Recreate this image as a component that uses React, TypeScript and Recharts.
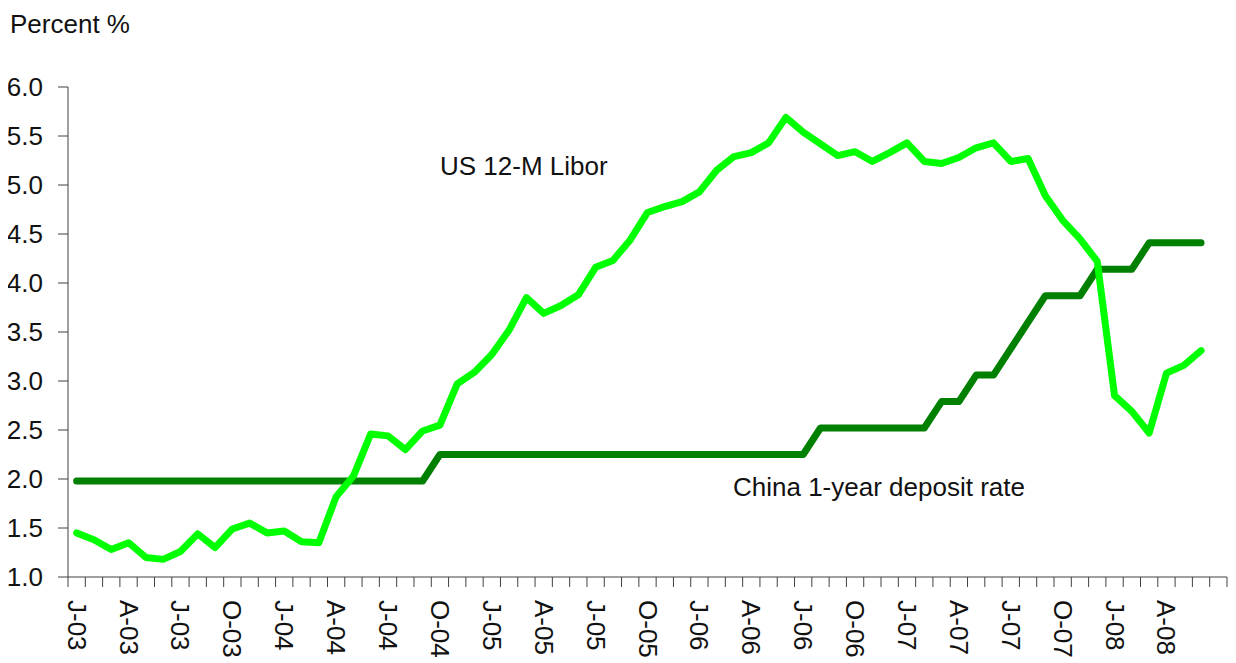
import { LineChart, Line, XAxis, YAxis } from "recharts";

// Jan 2003 .. Jul 2008 (last month has no data)
const years = ["03", "04", "05", "06", "07", "08"];
const monthNames = ["Jan", "Feb", "Mar", "Apr", "May", "Jun", "Jul", "Aug", "Sep", "Oct", "Nov", "Dec"];
const months: string[] = years.flatMap((y) => monthNames.map((m) => `${m}-${y}`)).slice(0, 67);

const quarterLabels = [
  "J-03", "A-03", "J-03", "O-03",
  "J-04", "A-04", "J-04", "O-04",
  "J-05", "A-05", "J-05", "O-05",
  "J-06", "A-06", "J-06", "O-06",
  "J-07", "A-07", "J-07", "O-07",
  "J-08", "A-08",
];

const libor = [
  1.45, 1.38, 1.28, 1.35, 1.2, 1.18, 1.26, 1.44, 1.3, 1.49, 1.55, 1.45,
  1.47, 1.36, 1.35, 1.82, 2.03, 2.46, 2.44, 2.3, 2.49, 2.55, 2.97, 3.09,
  3.27, 3.52, 3.85, 3.69, 3.77, 3.88, 4.16, 4.23, 4.44, 4.72, 4.78, 4.83,
  4.93, 5.15, 5.29, 5.33, 5.43, 5.69, 5.54, 5.42, 5.3, 5.34, 5.24, 5.33,
  5.43, 5.24, 5.22, 5.28, 5.38, 5.43, 5.24, 5.27, 4.89, 4.64, 4.45, 4.22,
  2.85, 2.69, 2.47, 3.08, 3.16, 3.31, null,
];

const chinaDeposit = [
  1.98, 1.98, 1.98, 1.98, 1.98, 1.98, 1.98, 1.98, 1.98, 1.98, 1.98, 1.98,
  1.98, 1.98, 1.98, 1.98, 1.98, 1.98, 1.98, 1.98, 1.98, 2.25, 2.25, 2.25,
  2.25, 2.25, 2.25, 2.25, 2.25, 2.25, 2.25, 2.25, 2.25, 2.25, 2.25, 2.25,
  2.25, 2.25, 2.25, 2.25, 2.25, 2.25, 2.25, 2.52, 2.52, 2.52, 2.52, 2.52,
  2.52, 2.52, 2.79, 2.79, 3.06, 3.06, 3.33, 3.6, 3.87, 3.87, 3.87, 4.14,
  4.14, 4.14, 4.41, 4.41, 4.41, 4.41, null,
];

const yTicks = [1, 1.5, 2, 2.5, 3, 3.5, 4, 4.5, 5, 5.5, 6];

const data = months.map((m, i) => ({
  idx: i,
  month: m,
  libor: libor[i],
  china: chinaDeposit[i],
}));

const FONT = "'Liberation Sans', Arial, sans-serif";
const FONT_SIZE = 26;
const TEXT = "#111";
const AXIS = "#404040";

const W = 1228;
const H = 655;
const MARGIN = { top: 79, right: 9, bottom: 8, left: 0 };
const Y_AXIS_W = 60;
const X_AXIS_H = 78;
const PLOT_W = W - MARGIN.left - MARGIN.right - Y_AXIS_W;

function MonthTick(props: any) {
  const { x, y, payload } = props;
  const i = payload.value as number;
  const step = PLOT_W / months.length;
  const label = i % 3 === 0 ? quarterLabels[i / 3] : undefined;
  return (
    <g>
      <line x1={x - step / 2} x2={x - step / 2} y1={y} y2={y + 10} stroke={AXIS} />
      {i === months.length - 1 && (
        <line x1={x + step / 2} x2={x + step / 2} y1={y} y2={y + 10} stroke={AXIS} />
      )}
      {label && (
        <text
          x={x}
          y={y + 23}
          transform={`rotate(90 ${x} ${y + 23})`}
          dominantBaseline="central"
          textAnchor="start"
          fontFamily={FONT}
          fontSize={FONT_SIZE}
          fill={TEXT}
        >
          {label}
        </text>
      )}
    </g>
  );
}

export default function App() {
  return (
    <div style={{ position: "relative", width: W, height: H }}>
      <LineChart width={W} height={H} data={data} margin={MARGIN}>
        <XAxis
          dataKey="idx"
          type="number"
          domain={[-0.5, months.length - 0.5]}
          ticks={months.map((_, i) => i)}
          interval={0}
          height={X_AXIS_H}
          tickSize={0}
          tickMargin={0}
          tickLine={false}
          axisLine={{ stroke: AXIS, strokeWidth: 1 }}
          tick={<MonthTick />}
        />
        <YAxis
          type="number"
          domain={[1, 6]}
          ticks={yTicks}
          interval={0}
          width={Y_AXIS_W}
          tickSize={10}
          tickMargin={15}
          tickLine={{ stroke: AXIS }}
          axisLine={{ stroke: AXIS, strokeWidth: 1 }}
          tickFormatter={(v: number) => v.toFixed(1)}
          tick={{ fill: TEXT, fontSize: FONT_SIZE, fontFamily: FONT }}
        />
        <Line
          type="linear"
          dataKey="china"
          stroke="#008000"
          strokeWidth={7}
          strokeLinecap="round"
          strokeLinejoin="round"
          dot={false}
          activeDot={false}
          isAnimationActive={false}
        />
        <Line
          type="linear"
          dataKey="libor"
          stroke="#00FF00"
          strokeWidth={7}
          strokeLinecap="round"
          strokeLinejoin="round"
          dot={false}
          activeDot={false}
          isAnimationActive={false}
        />
      </LineChart>
      <svg
        width={W}
        height={H}
        style={{ position: "absolute", left: 0, top: 0, pointerEvents: "none" }}
      >
        <g fontFamily={FONT} fontSize={FONT_SIZE} fill={TEXT}>
          <text x={2} y={25}>Percent %</text>
          <text x={432} y={167}>US 12-M Libor</text>
          <text x={725} y={488}>China 1-year deposit rate</text>
        </g>
      </svg>
    </div>
  );
}
